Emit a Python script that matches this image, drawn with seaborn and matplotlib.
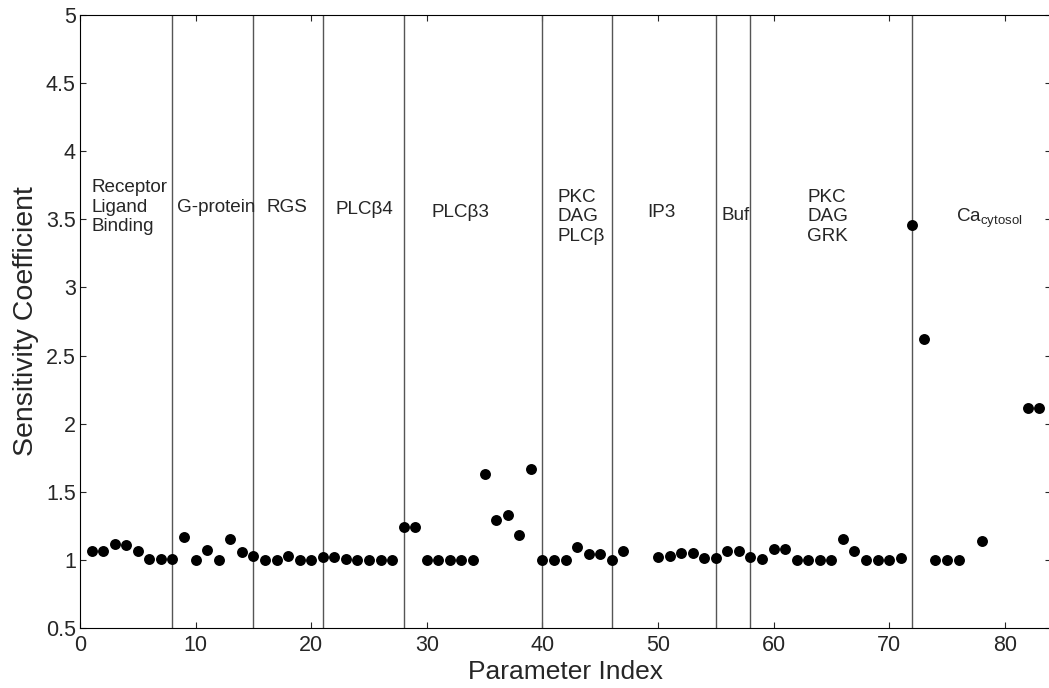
import numpy as np
import pandas as pd
import seaborn as sns
import matplotlib
matplotlib.use("Agg")
import matplotlib.pyplot as plt

# Datos
param_index = [1, 2, 3, 4, 5, 6, 7, 8, 9, 10,
               11, 12, 13, 14, 15, 16, 17, 18, 19, 20,
               21, 22, 23, 24, 25, 26, 27, 28, 29, 30,
               31, 32, 33, 34, 35, 36, 37, 38, 39, 40,
               41, 42, 43, 44, 45, 46, 47, 50,
               51, 52, 53, 54, 55, 56, 57, 58, 59, 60,
               61, 62, 63, 64, 65, 66, 67, 68, 69, 70,
               71, 72, 73, 74, 75, 76, 78, 82, 83]
sensitivity = [1.068, 1.063, 1.117, 1.109, 1.065, 1.004, 1.006, 1.004, 1.17, 1.00,
               1.07, 1.00, 1.15, 1.056, 1.03, 1.00, 1.00, 1.03, 1.00, 1.00,
               1.023, 1.02, 1.008, 1.00, 1.00, 1.00, 1.00, 1.24, 1.24, 1.00,
               1.00, 1.00, 1.00, 1.00, 1.63, 1.29, 1.33, 1.185, 1.667, 1.00,
               1.00, 1.00, 1.095, 1.043, 1.045, 1.00, 1.068, 1.024,
               1.031, 1.051, 1.051, 1.016, 1.016, 1.068, 1.068, 1.024, 1.009, 1.08,
               1.08, 1.00, 1.00, 1.00, 1.00, 1.151, 1.065, 1.00, 1.00, 1.00,
               1.016, 3.457, 2.62, 1.00, 1.00, 1.00, 1.139, 2.113, 2.113]

# Limites entre grupos de parametros
boundaries = [8, 15, 21, 28, 40, 46, 55, 58, 72]

# Etiquetas de grupos: texto, x, y
group_labels = ["Receptor\nLigand\nBinding", "G-protein", "RGS", "PLC\u03b24", "PLC\u03b23",
                "PKC\nDAG\nPLC\u03b2", "IP3", "Buf", "PKC\nDAG\nGRK", r"Ca$_{\rm cytosol}$"]
group_x = [1.0, 8.35, 16.1, 22.1, 30.4, 41.3, 49.1, 55.5, 62.9, 75.8]
group_y = [3.59, 3.59, 3.59, 3.57, 3.55, 3.52, 3.55, 3.53, 3.52, 3.51]

df = pd.DataFrame({"Parameter Index": param_index, "Sensitivity Coefficient": sensitivity})

sns.set_style("ticks")
plt.rcParams['font.family'] = ['Liberation Sans', 'DejaVu Sans']
plt.rcParams['mathtext.fontset'] = 'custom'
plt.rcParams['mathtext.rm'] = 'Liberation Sans'

fig = plt.figure(figsize=(10.49, 6.88), dpi=100)
ax = fig.add_axes([80 / 1049, 60 / 688, 971 / 1049, 613 / 688])

for b in boundaries:
    ax.axvline(b, color='#555555', linewidth=1.0, zorder=1)

sns.scatterplot(data=df, x="Parameter Index", y="Sensitivity Coefficient",
                color='black', s=62, linewidth=0, ax=ax, zorder=3)

for txt, gx, gy in zip(group_labels, group_x, group_y):
    ax.text(gx, gy, txt, ha='left', va='center', fontsize=13.6, linespacing=1.2)

ax.set_xlim(0, 84)
ax.set_ylim(0.5, 5)
ax.set_xticks(np.arange(0, 81, 10))
ax.set_yticks(np.arange(0.5, 5.01, 0.5))
ax.set_yticklabels(['0.5', '1', '1.5', '2', '2.5', '3', '3.5', '4', '4.5', '5'])
ax.tick_params(direction='in', top=True, right=True, length=4.5, width=0.8,
               labelsize=15.5, pad=3)
ax.tick_params(axis='x', pad=5)
for sp in ax.spines.values():
    sp.set_visible(True)
    sp.set_linewidth(0.8)
    sp.set_color('black')
# el borde derecho queda fuera de la imagen en el original
ax.spines['right'].set_visible(False)

ax.set_xlabel("Parameter Index", fontsize=19, labelpad=3)
ax.set_ylabel("Sensitivity Coefficient", fontsize=20.5, labelpad=5)

plt.savefig("out.png", dpi=100)
